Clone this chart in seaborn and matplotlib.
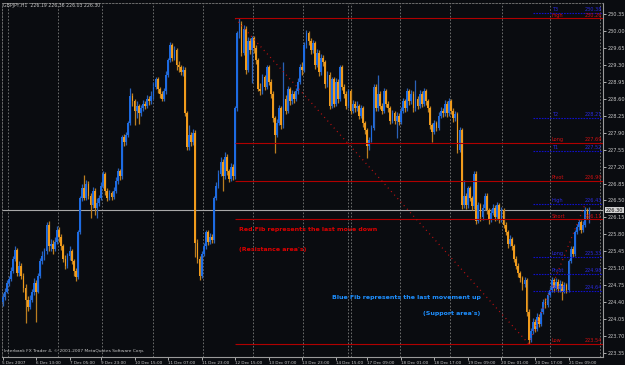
import matplotlib
matplotlib.use("Agg")
import matplotlib.pyplot as plt
import matplotlib.transforms as mtransforms
import seaborn as sns
import pandas as pd

sns.set_theme(style="dark")
plt.rcParams['font.family'] = ['DejaVu Sans']

# ---------------- data (GBPJPY H1) ----------------
first_open = 224.40
closes = [
    224.50, 224.62, 224.80, 224.88, 225.05, 225.30, 225.48, 225.00, 225.15, 224.95,
    224.70, 224.45, 224.30, 224.45, 224.60, 224.80, 224.62, 224.95, 225.25, 225.35,
    225.45, 226.00, 225.55, 225.60, 225.50, 225.65, 225.90, 225.75, 225.55, 225.30,
    225.15, 225.35, 225.45, 225.25, 225.05, 224.92, 225.85, 226.55, 226.75, 226.55,
    226.85, 226.60, 226.40, 226.70, 226.35, 226.45, 226.55, 226.80, 227.05, 226.70,
    226.55, 226.65, 226.58, 226.70, 226.90, 227.10, 227.00, 227.80, 227.70, 227.85,
    228.10, 228.65, 228.55, 228.35, 228.45, 228.30, 228.40, 228.50, 228.45, 228.60,
    228.55, 228.65, 228.85, 229.00, 228.80, 228.70, 228.60, 228.75, 229.10, 229.40,
    229.72, 229.45, 229.60, 229.30, 229.25, 229.15, 229.20, 228.30, 227.60, 227.85,
    227.70, 227.90, 225.62, 225.30, 224.95, 225.40, 225.55, 225.85, 225.65, 225.75,
    225.68, 226.55, 226.80, 227.05, 227.30, 227.00, 227.40, 227.10, 226.95, 227.20,
    227.00, 228.40, 229.95, 230.15, 229.55, 230.05, 229.20, 229.80, 229.60, 229.85,
    229.65, 229.40, 228.80, 228.75, 229.05, 228.85, 229.25, 228.95, 228.70, 228.20,
    227.85, 228.10, 228.40, 228.05, 228.60, 228.35, 228.80, 228.55, 228.70, 228.60,
    228.75, 228.95, 229.25, 229.20, 229.70, 229.95, 229.80, 229.60, 229.75, 229.30,
    229.55, 229.15, 229.45, 229.35, 228.90, 229.10, 228.45, 229.00, 228.50, 228.95,
    228.60, 229.25, 228.85, 228.70, 228.45, 228.75, 228.35, 228.50, 228.40, 228.45,
    228.25, 228.40, 228.10, 227.95, 227.62, 227.75, 228.00, 228.85, 228.40, 228.70,
    228.45, 228.35, 228.75, 228.50, 228.40, 228.15, 228.30, 228.15, 228.25, 228.12,
    228.35, 228.55, 228.40, 228.75, 228.55, 228.70, 228.40, 228.60, 228.45, 228.70,
    228.50, 228.75, 228.55, 228.40, 228.05, 227.92, 228.10, 228.00, 228.25, 228.35,
    228.30, 228.50, 228.30, 228.55, 228.35, 228.20, 228.28, 227.55, 227.95, 226.40,
    226.60, 226.40, 226.75, 226.55, 226.38, 227.05, 226.08, 226.40, 226.15, 226.35,
    226.60, 226.30, 226.10, 226.25, 226.35, 226.15, 226.40, 226.10, 226.30, 226.00,
    225.85, 225.60, 225.70, 225.55, 225.30, 225.15, 225.00, 224.90, 224.78, 224.85,
    224.20, 223.62, 223.80, 224.00, 223.85, 224.10, 223.95, 224.20, 224.40, 224.35,
    224.55, 224.65, 224.85, 224.70, 224.82, 224.68, 224.78, 224.62, 224.75, 224.65,
    225.25, 225.50, 225.40, 225.85, 225.95, 226.05, 225.90, 226.00, 226.30, 226.19,
    226.30,
]
highs = [
    224.58, 224.70, 224.86, 224.95, 225.12, 225.36, 225.55, 225.52, 225.25, 225.20,
    225.00, 224.78, 224.52, 224.55, 224.68, 224.90, 224.85, 225.00, 225.32, 225.45,
    225.52, 226.05, 226.08, 225.70, 225.68, 225.75, 225.98, 225.96, 225.80, 225.60,
    225.38, 225.42, 225.55, 225.50, 225.30, 225.10, 225.90, 226.60, 226.85, 227.03,
    226.92, 226.90, 226.65, 226.78, 226.75, 226.55, 226.62, 226.88, 227.10, 227.08,
    226.75, 226.72, 226.70, 226.78, 226.98, 227.17, 227.15, 227.85, 227.88, 227.92,
    228.15, 228.82, 228.72, 228.60, 228.55, 228.50, 228.48, 228.58, 228.56, 228.68,
    228.66, 228.75, 228.95, 229.05, 229.05, 228.85, 228.76, 228.82, 229.18, 229.45,
    229.77, 229.76, 229.68, 229.64, 229.38, 229.30, 229.28, 229.25, 228.35, 228.06,
    227.92, 227.98, 227.95, 225.70, 225.35, 225.45, 225.62, 225.90, 225.90, 225.82,
    225.80, 226.60, 226.88, 227.12, 227.40, 227.35, 227.50, 227.45, 227.15, 227.27,
    227.25, 228.45, 230.00, 230.26, 230.20, 230.12, 230.10, 229.87, 229.85, 229.90,
    229.90, 229.70, 229.45, 228.92, 229.12, 229.10, 229.30, 229.30, 229.00, 228.75,
    228.25, 228.18, 228.47, 228.45, 229.36, 228.68, 228.86, 228.85, 228.78, 228.75,
    228.82, 229.02, 229.32, 229.35, 229.77, 230.02, 230.00, 229.85, 229.82, 229.80,
    229.62, 229.60, 229.52, 229.50, 229.40, 229.18, 229.15, 229.05, 229.05, 229.02,
    229.00, 229.30, 229.30, 228.90, 228.75, 228.80, 228.80, 228.58, 228.56, 228.55,
    228.50, 228.47, 228.45, 228.15, 228.00, 227.82, 228.06, 228.90, 228.90, 229.09,
    228.75, 228.52, 228.82, 228.80, 228.56, 228.45, 228.37, 228.35, 228.32, 228.30,
    228.42, 228.62, 228.60, 228.82, 228.80, 228.78, 228.75, 228.99, 228.66, 228.78,
    228.75, 228.82, 228.80, 228.60, 228.45, 228.10, 228.17, 228.15, 228.32, 228.42,
    228.40, 228.57, 228.55, 228.62, 228.60, 228.40, 228.35, 228.32, 228.02, 228.00,
    226.92, 226.65, 226.80, 226.80, 226.60, 227.10, 227.10, 226.46, 226.45, 226.42,
    226.66, 226.65, 226.35, 226.32, 226.42, 226.40, 226.47, 226.45, 226.37, 226.35,
    226.05, 225.90, 225.78, 225.75, 225.60, 225.35, 225.20, 225.05, 224.95, 224.92,
    224.90, 224.25, 223.87, 224.07, 224.05, 224.17, 224.15, 224.27, 224.47, 224.48,
    224.62, 224.72, 224.92, 224.90, 224.90, 224.87, 224.85, 224.83, 224.82, 224.80,
    225.30, 225.56, 225.55, 225.90, 226.02, 226.12, 226.10, 226.07, 226.36, 226.34,
    226.36,
]
lows = [
    224.33, 224.45, 224.58, 224.74, 224.84, 225.00, 225.25, 224.93, 224.95, 224.88,
    224.62, 223.97, 224.22, 224.25, 224.40, 224.55, 223.99, 224.58, 224.90, 225.18,
    225.28, 225.40, 225.45, 225.45, 225.40, 225.45, 225.60, 225.65, 225.48, 225.22,
    225.08, 225.10, 225.28, 225.18, 224.95, 224.84, 224.88, 225.80, 226.48, 226.50,
    226.50, 226.52, 226.14, 226.35, 226.20, 226.14, 226.38, 226.50, 226.75, 226.62,
    226.48, 226.50, 226.50, 226.52, 226.65, 226.85, 226.92, 226.95, 227.62, 227.65,
    227.80, 228.05, 228.45, 228.06, 228.20, 228.08, 228.25, 228.35, 228.38, 228.40,
    228.48, 228.50, 228.60, 228.80, 228.72, 228.62, 228.55, 228.55, 228.70, 229.05,
    229.35, 229.38, 229.40, 229.20, 229.15, 229.10, 229.08, 228.25, 227.55, 227.55,
    227.62, 227.65, 225.33, 225.20, 224.86, 224.90, 225.35, 225.50, 225.58, 225.60,
    225.62, 225.62, 226.50, 226.75, 227.00, 226.70, 226.95, 227.02, 226.88, 226.90,
    226.92, 226.95, 228.35, 229.85, 229.48, 229.50, 229.12, 229.15, 229.52, 228.92,
    229.55, 229.32, 228.75, 228.68, 228.70, 228.78, 228.80, 228.88, 228.62, 228.12,
    227.48, 227.80, 228.05, 227.98, 228.00, 228.28, 228.30, 228.48, 228.50, 228.52,
    228.55, 228.70, 228.90, 229.10, 229.15, 229.65, 229.72, 229.52, 229.55, 229.22,
    229.25, 229.08, 229.10, 229.28, 228.82, 228.85, 228.38, 228.40, 228.43, 228.45,
    228.52, 228.55, 228.78, 228.62, 228.38, 228.40, 228.28, 228.30, 228.33, 228.35,
    228.18, 228.20, 228.02, 227.88, 227.37, 227.55, 227.70, 227.95, 228.35, 228.35,
    228.38, 228.28, 228.30, 228.43, 228.33, 228.08, 228.10, 228.08, 227.79, 228.05,
    228.08, 228.30, 228.33, 228.35, 228.48, 228.50, 228.33, 228.35, 228.38, 228.40,
    228.43, 228.45, 228.48, 228.33, 227.98, 227.71, 227.88, 227.93, 227.95, 228.20,
    228.22, 228.25, 228.22, 228.25, 228.28, 228.12, 228.15, 227.48, 227.50, 226.33,
    226.35, 226.33, 226.35, 226.48, 226.30, 226.33, 226.02, 226.03, 226.08, 226.10,
    226.30, 226.23, 226.02, 226.05, 226.20, 226.08, 226.10, 226.03, 226.05, 225.93,
    225.78, 225.52, 225.55, 225.48, 225.22, 225.08, 224.92, 224.82, 224.65, 224.72,
    224.12, 223.54, 223.57, 223.75, 223.78, 223.80, 223.88, 223.90, 224.15, 224.28,
    224.30, 224.50, 224.60, 224.62, 224.65, 224.60, 224.62, 224.45, 224.58, 224.58,
    224.60, 225.20, 225.33, 225.35, 225.80, 225.90, 225.83, 225.85, 225.95, 226.12,
    226.03,
]

date_tick_bars = [0, 16, 32, 47, 63, 79, 95, 111, 127, 143, 159, 174, 190, 206, 222, 238, 254, 270]
date_labels = ["5 Dec 2007", "6 Dec 13:00", "7 Dec 05:00", "9 Dec 23:00", "10 Dec 15:00",
               "11 Dec 07:00", "11 Dec 23:00", "12 Dec 15:00", "13 Dec 07:00", "13 Dec 23:00",
               "14 Dec 15:00", "17 Dec 09:00", "18 Dec 01:00", "18 Dec 17:00", "19 Dec 09:00",
               "20 Dec 01:00", "20 Dec 17:00", "21 Dec 09:00"]
grid_bars = [2.6, 26.5, 47.5, 71.8, 95.6, 119.5, 143.3, 165.0, 166.3, 189.6, 213.5, 238.3, 261.2, 285.0]
price_ticks = [230.35, 230.00, 229.65, 229.30, 228.95, 228.60, 228.25, 227.90, 227.55, 227.20,
               226.85, 226.50, 226.15, 225.80, 225.45, 225.10, 224.75, 224.40, 224.05, 223.70, 223.35]

bid_price = 226.30
red_names = ["High", "Long", "Pivot", "Short", "Low"]
red_values = [230.26, 227.69, 226.90, 226.11, 223.54]
blue_names = ["T3", "T2", "T1", "High", "Long", "Pivot", "Short"]
blue_values = [230.38, 228.21, 227.52, 226.43, 225.33, 224.98, 224.64]
red_fib_start_bar = 111
blue_fib_start_bar = 253
red_diag_bars = [111, 251]
red_diag_prices = [230.26, 223.54]
blue_diag_bars = [251, 278]
blue_diag_prices = [223.54, 226.43]

# ---------------- styling ----------------
BG = "#0a0c10"
BULL = "#1d6be2"
BEAR = "#f09b1c"
BULL_W = "#2a62b8"
BEAR_W = "#bb7e20"
GRID = "#7a7a7a"
AXC = "#9a9a9a"
TXT = "#c8c8c8"
RED = "#b00000"
REDT = "#d41010"
BLUE = "#1010c8"
BLUET = "#2a2ae0"

opens = [first_open] + closes[:-1]
df = pd.DataFrame({"bar": range(len(closes)), "open": opens, "close": closes,
                   "high": highs, "low": lows})
df["high"] = df[["high", "open", "close"]].max(axis=1)
df["low"] = df[["low", "open", "close"]].min(axis=1)
df["up"] = df["close"] >= df["open"]

fig = plt.figure(figsize=(6.25, 3.65), dpi=100, facecolor=BG)
ax = fig.add_axes([2 / 625, 8 / 365, 601 / 625, 354 / 365])
ax.set_facecolor(BG)

px_per_bar = 2.0964
x_left = -0.5 / px_per_bar
x_right = (603 - 2.5) / px_per_bar
ax.set_xlim(x_left, x_right)
y_top = 230.35 + 11 / 48.43
y_bot = 230.35 - 343 / 48.43
ax.set_ylim(y_bot, y_top)

# vertical grid
ax.vlines(grid_bars, y_bot, y_top, colors=GRID, linestyles=(0, (2, 2)), linewidth=0.6, zorder=1)

# candles
up = df[df["up"]]
dn = df[~df["up"]]
ax.vlines(up["bar"], up["low"], up["high"], colors=BULL_W, linewidth=0.9, zorder=3)
ax.vlines(dn["bar"], dn["low"], dn["high"], colors=BEAR_W, linewidth=0.9, zorder=3)
ax.bar(up["bar"], (up["close"] - up["open"]).clip(lower=0.02), bottom=up["open"],
       width=0.85, color=BULL, linewidth=0, zorder=4)
ax.bar(dn["bar"], (dn["open"] - dn["close"]).clip(lower=0.02), bottom=dn["close"],
       width=0.85, color=BEAR, linewidth=0, zorder=4)

# bid line
ax.axhline(bid_price, color="#a8a8a8", linewidth=0.8, zorder=2)

# red fib
ax.hlines(red_values, red_fib_start_bar, x_right, colors=RED, linewidth=0.8, zorder=5)
# blue fib
ax.hlines(blue_values, blue_fib_start_bar, x_right, colors=BLUE, linewidth=0.8,
          linestyles=(0, (1.5, 1)), zorder=5)

label_bar = (552 - 2.5) / px_per_bar
value_bar = (602 - 2.5) / px_per_bar
for n, v in zip(red_names, red_values):
    ax.text(label_bar, v + 0.015, n, color=REDT, fontsize=3.6, ha="left", va="bottom", zorder=6)
    ax.text(value_bar, v + 0.015, f"{v:.2f}", color=REDT, fontsize=3.6, ha="right", va="bottom", zorder=6)
for n, v in zip(blue_names, blue_values):
    ax.text(label_bar, v + 0.015, n, color=BLUET, fontsize=3.6, ha="left", va="bottom", zorder=6)
    ax.text(value_bar, v + 0.015, f"{v:.2f}", color=BLUET, fontsize=3.6, ha="right", va="bottom", zorder=6)

# diagonals
diag = pd.DataFrame({"bar": red_diag_bars + blue_diag_bars,
                     "price": red_diag_prices + blue_diag_prices,
                     "fib": ["red", "red", "blue", "blue"]})
for key, g in diag.groupby("fib"):
    sns.lineplot(data=g, x="bar", y="price", ax=ax, color="#c01010", linewidth=0.9,
                 linestyle=(0, (0.8, 3)), zorder=5, legend=False)

# annotations
ann_kw = dict(fontsize=4.5, fontweight="bold", ha="left", va="center", zorder=7)
ax.text((239 - 2.5) / px_per_bar, 225.89, "Red Fib represents the last move down",
        color="#dd0000", **ann_kw)
ax.text((239 - 2.5) / px_per_bar, 225.48, "(Resistance area's)", color="#dd0000", **ann_kw)
ax.text((332 - 2.5) / px_per_bar, 224.49, "Blue Fib represents the last movement up",
        color="#1e8fff", **ann_kw)
ax.text((423 - 2.5) / px_per_bar, 224.16, "(Support area's)", color="#1e8fff", **ann_kw)

# axes / ticks
ax.grid(False)
for s in ["top", "left"]:
    ax.spines[s].set_color(GRID)
    ax.spines[s].set_linestyle((0, (2, 2)))
    ax.spines[s].set_linewidth(0.6)
for s in ["right", "bottom"]:
    ax.spines[s].set_color(AXC)
    ax.spines[s].set_linewidth(0.8)

ax.set_yticks(price_ticks)
ax.set_yticklabels([f"{p:.2f}" for p in price_ticks])
ax.yaxis.tick_right()
ax.tick_params(axis="y", which="both", right=True, left=False, labelright=True, labelleft=False,
               labelsize=3.6, colors=TXT, length=2, width=0.6, pad=1.5, direction="out")
ax.set_xticks(date_tick_bars)
ax.set_xticklabels(date_labels)
ax.tick_params(axis="x", which="both", bottom=True, labelbottom=True, labelsize=3.0,
               colors=TXT, length=2, width=0.6, pad=0.8, direction="out")
for lbl in ax.get_xticklabels():
    lbl.set_horizontalalignment("left")
ax.set_xlabel("")
ax.set_ylabel("")

# current price box
trans = mtransforms.blended_transform_factory(ax.transAxes, ax.transData)
ax.text(1.004, bid_price, f"{bid_price:.2f}", transform=trans, fontsize=3.6, color="#101010",
        ha="left", va="center", clip_on=False, zorder=10,
        bbox=dict(facecolor="#d0d0d0", edgecolor="none", pad=0.5))

fig.text(3 / 625, 1 - 6 / 365, "GBPJPY,H1  226.19 226.36 226.03 226.30", fontsize=3.3,
         color=TXT, ha="left", va="center")
ax.text(0.003, 0.012, "Interbank FX Trader 4, \u00a9 2001-2007 MetaQuotes Software Corp.",
        transform=ax.transAxes, fontsize=3.2, color=TXT, ha="left", va="bottom")

fig.savefig("out.png", dpi=100, facecolor=BG)
